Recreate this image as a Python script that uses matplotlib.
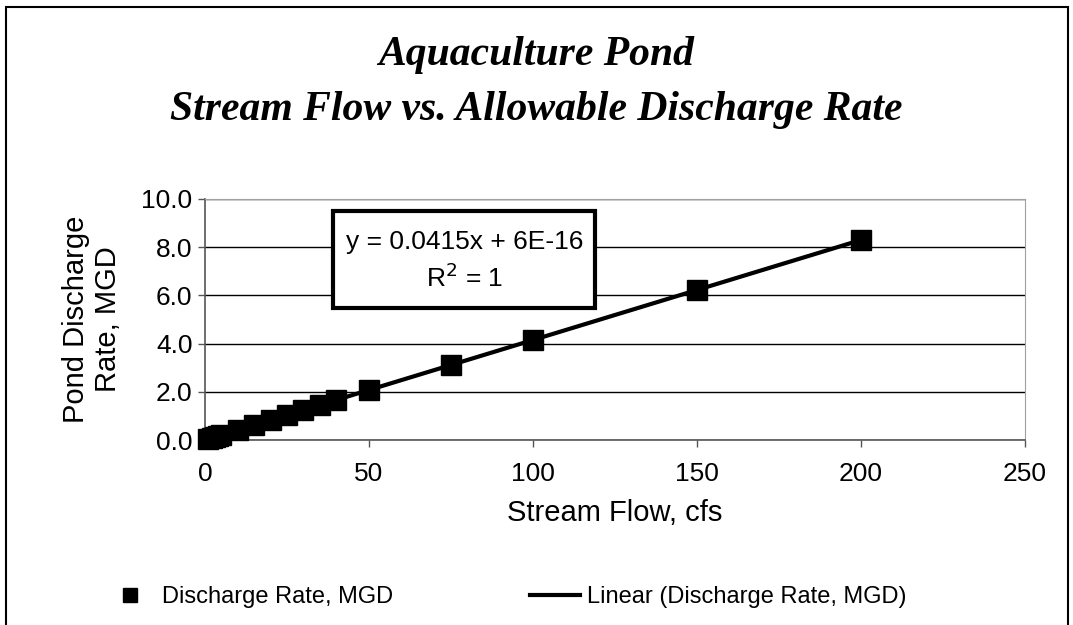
import matplotlib.pyplot as plt
from matplotlib.lines import Line2D
from matplotlib.patches import Rectangle

plt.rcParams['font.family'] = ['Liberation Sans', 'DejaVu Sans']

flow_cfs = [1, 2, 3, 4, 5, 10, 15, 20, 25, 30, 35, 40, 50, 75, 100, 150, 200]
discharge_mgd = [0.04, 0.08, 0.12, 0.17, 0.21, 0.42, 0.62, 0.83, 1.04, 1.25, 1.45,
                 1.66, 2.08, 3.11, 4.15, 6.23, 8.30]
fit_slope = 0.0415
fit_x = [0, 200]
fit_y = [fit_slope * v for v in fit_x]

W, H = 1073, 625
fig = plt.figure(figsize=(W / 100, H / 100), dpi=100)
fig.patch.set_facecolor('white')
# outer chart border (bottom edge runs off the image)
fig.patches.append(Rectangle((6 / W, -0.05), 1062 / W, 1.05 - 7 / H, transform=fig.transFigure,
                             fill=False, edgecolor='black', linewidth=1.5))

ax = fig.add_axes([205 / W, 1 - 440 / H, 820 / W, 241 / H])

ax.plot(fit_x, fit_y, color='black', lw=3, zorder=3)
ax.plot(flow_cfs, discharge_mgd, 's', color='black', markersize=15, zorder=4, clip_on=False)

ax.set_xlim(0, 250)
ax.set_ylim(0, 10)
ax.set_xticks(range(0, 251, 50))
ax.set_yticks(range(0, 11, 2))
ax.set_yticklabels(['%.1f' % v for v in range(0, 11, 2)])
ax.yaxis.grid(True, color='black', lw=1)
ax.set_axisbelow(True)
for s in ['top', 'right']:
    ax.spines[s].set_color('#a0a0a0')
for s in ['left', 'bottom']:
    ax.spines[s].set_color('#555555')
    ax.spines[s].set_linewidth(1.2)
ax.tick_params(labelsize=19, direction='out', length=5, color='#555555', width=1)
ax.tick_params(axis='x', pad=11)
ax.tick_params(axis='y', pad=4)

ax.set_xlabel('Stream Flow, cfs', fontsize=21, labelpad=9)
ax.set_ylabel('Pond Discharge\nRate, MGD', fontsize=21, labelpad=14)

fig.text(0.5, 1 - 65 / H, 'Aquaculture Pond', ha='center', va='baseline',
         fontsize=30, fontweight='bold', style='italic', family='Liberation Serif')
fig.text(0.5, 1 - 120 / H, 'Stream Flow vs. Allowable Discharge Rate', ha='center',
         va='baseline', fontsize=30, fontweight='bold', style='italic', family='Liberation Serif')

# trendline equation box
fig.patches.append(Rectangle((333 / W, 1 - 308 / H), 262 / W, 97 / H, transform=fig.transFigure,
                             facecolor='white', edgecolor='black', linewidth=3, zorder=5))
fig.text(465 / W, 1 - 242 / H, 'y = 0.0415x + 6E-16', ha='center', va='center',
         fontsize=19, zorder=6)
fig.text(465 / W, 1 - 278 / H, 'R$^2$ = 1', ha='center', va='center', fontsize=19, zorder=6)

h1 = Line2D([], [], marker='s', ls='none', color='black', markersize=10)
h2 = Line2D([], [], color='black', lw=3)
leg1 = fig.legend([h1], ['Discharge Rate, MGD'], loc='center left',
                  bbox_to_anchor=(118 / W, 1 - 597 / H), frameon=False, fontsize=17,
                  handlelength=1, handletextpad=0.85, borderpad=0, borderaxespad=0)
leg2 = fig.legend([h2], ['Linear (Discharge Rate, MGD)'], loc='center left',
                  bbox_to_anchor=(530 / W, 1 - 597 / H), frameon=False, fontsize=17,
                  handlelength=2.1, handletextpad=0.3, borderpad=0, borderaxespad=0)

fig.savefig('out.png', dpi=100)
